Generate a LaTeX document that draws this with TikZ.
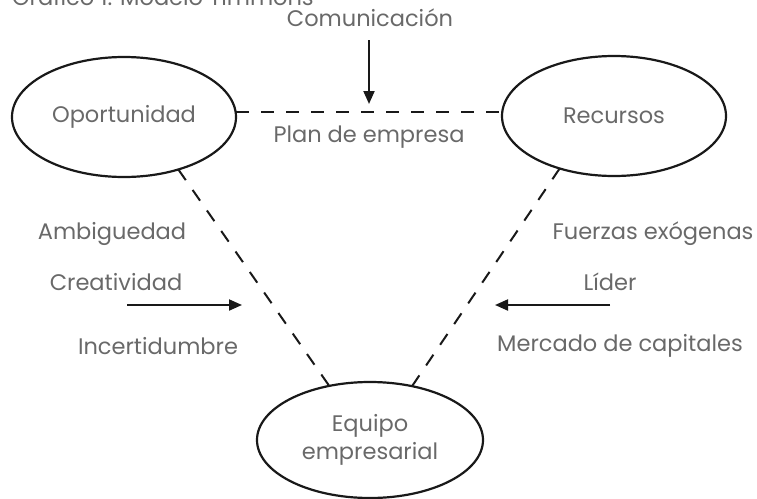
\documentclass[tikz,border=0pt]{standalone}
\usepackage{fontspec}
\setmainfont{Poppins}
\usetikzlibrary{arrows.meta,shapes.geometric}
\definecolor{txtgray}{RGB}{105,105,105}
\definecolor{linecol}{RGB}{25,25,25}
\tikzset{
  oval/.style={draw=linecol, line width=2.2pt, ellipse, inner sep=0pt, outer sep=0pt,
     text=txtgray, font=\fontsize{22.5}{28}\selectfont, align=center},
  lbl/.style={text=txtgray, font=\fontsize{22.5}{27}\selectfont, inner sep=0pt},
  dashline/.style={draw=linecol, line width=2pt, dash pattern=on 13pt off 12pt},
  arr/.style={draw=linecol, line width=2pt, -{Triangle[length=13pt,width=11pt]}}
}
\begin{document}
\begin{tikzpicture}[x=1pt,y=-1pt]
\useasboundingbox (0,0) rectangle (757,498);
% ellipses
\node[oval, minimum width=224pt, minimum height=120pt] (op) at (124,117) {Oportunidad};
\node[oval, minimum width=224pt, minimum height=120pt] (re) at (614,116) {Recursos};
\node[oval, minimum width=226pt, minimum height=116pt] (eq) at (370,440) {Equipo\\empresarial};
% title (cropped)
\node[lbl, anchor=base west] (title) at (12,5) {Gráfico 1. Modelo Timmons};
% dashed links
\draw[dashline] (op.east |- 0,112) -- (re.west |- 0,112);
\draw[dashline] (op.-44.5) -- (eq.127.5);
\draw[dashline] (re.-136) -- (eq.52.5);
% top
\node[lbl] (com) at (370,18) {Comunicación};
\node[lbl] (plan) at (369,137) {Plan de empresa};
\coordinate (ca) at (369,40);
\coordinate (cb) at (369,104);
\draw[arr] (ca) -- (cb);
% left
\node[lbl] (amb) at (112,234) {Ambiguedad};
\node[lbl] (cre) at (116,282) {Creatividad};
\node[lbl] (inc) at (158,346) {Incertidumbre};
\coordinate (la) at (127,305);
\coordinate (lb) at (242,305);
\draw[arr] (la) -- (lb);
% right
\node[lbl] (fue) at (653,234) {Fuerzas exógenas};
\node[lbl] (lid) at (610,282) {Líder};
\node[lbl] (mer) at (620,346) {Mercado de capitales};
\coordinate (ra) at (610,305);
\coordinate (rb) at (495,305);
\draw[arr] (ra) -- (rb);
\end{tikzpicture}
\end{document}
